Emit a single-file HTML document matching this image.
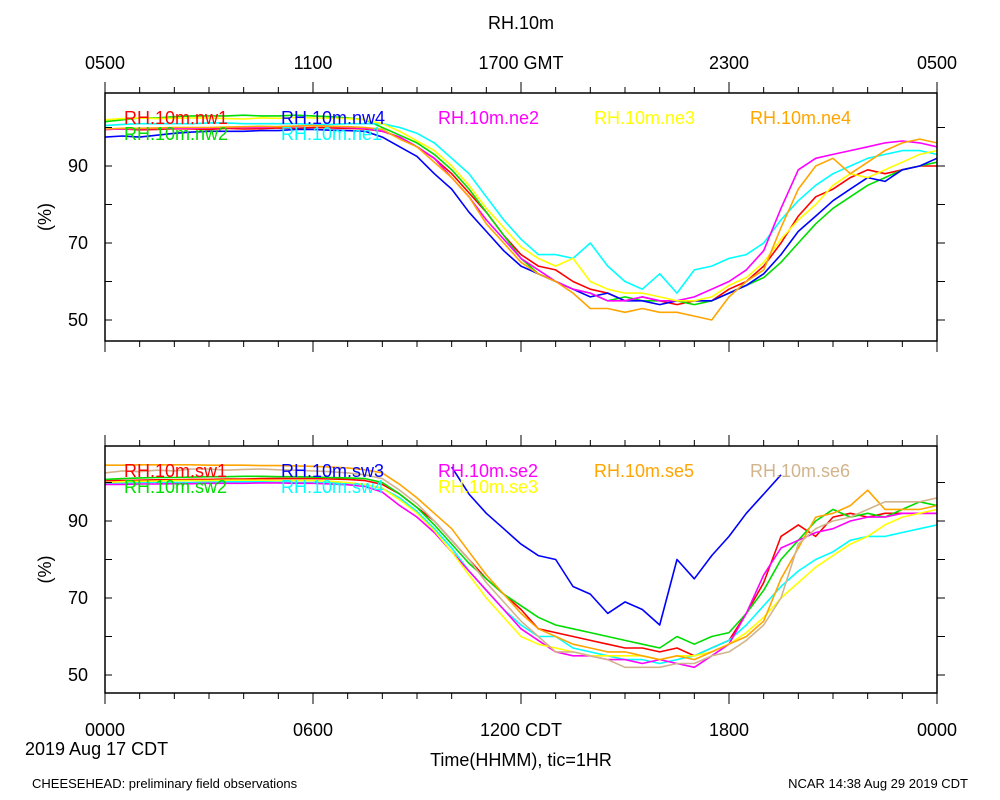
<!DOCTYPE html>
<html><head><meta charset="utf-8"><style>
html,body{margin:0;padding:0;background:#fff;}
svg{display:block;font-family:"Liberation Sans",sans-serif;}
</style></head><body>
<svg id="c" width="1000" height="800" viewBox="0 0 1000 800"></svg>
<script>
const hours=[];for(let i=0;i<=48;i++)hours.push(i/2);
const yTicks=[50,60,70,80,90,100];
const yLabels=["90","70","50"];
const topXLabels=["0500","1100","1700 GMT","2300","0500"];
const botXLabels=["0000","0600","1200 CDT","1800","0000"];
const topNames=["RH.10m.nw1","RH.10m.nw2","RH.10m.nw4","RH.10m.ne1","RH.10m.ne2","RH.10m.ne3","RH.10m.ne4"];
const botNames=["RH.10m.sw1","RH.10m.sw2","RH.10m.sw3","RH.10m.sw4","RH.10m.se2","RH.10m.se3","RH.10m.se5","RH.10m.se6"];
const nw1=[99.5,99.6,99.4,99.5,99.7,99.6,99.5,99.8,99.6,99.7,99.9,99.8,100,99.9,99.8,99.6,99,97.5,95,92,88,83,78,72,67,64,63,60,58,57,55,56,55,54,55,55,58,60,64,70,77,82,84,87,89,88,89,90,90];
const nw2=[101.5,102,102.5,102.5,102.8,103,103,103,103.2,103,103,103.2,103,102.8,102.5,102,100,98,96,93,89,84,78,72,66,62,60,58,57,55,56,55,55,55,54,55,57,59,61,65,70,75,79,82,85,87,89,90,91];
const nw4=[97.5,97.8,97.5,98,98.5,98.8,99,99,99,99.2,99.2,99.5,99.5,99.3,99.2,99,97.5,95,92.5,88,84,78,73,68,64,62,60,58,56,57,55,55,54,55,55,55,57,59,62,67,73,77,81,84,87,86,89,90,92];
const ne1=[100.5,100.8,101,101,101,101,101.2,101.2,101,101,101,101,100.8,100.8,101,101,101,100,98.5,96,92,88,82,76,71,67,67,66,70,64,60,58,62,57,63,64,66,67,70,76,81,85,88,90,92,93,94,94,93];
const ne2=[99.5,99.6,99.7,99.8,99.8,99.8,99.9,100,100,100,100.2,100.3,100.5,100.3,100,99.8,99,97.5,95,92,87,82,76,71,66,63,60,58,57,55,55,56,55,55,56,58,60,63,68,79,89,92,93,94,95,96,96.5,96,95];
const ne3=[102,102.3,102.5,102.3,102.4,102.5,102.5,102.3,102.2,102.5,102.4,102.6,102.5,102.4,102.3,102,101,99,96.5,94,90,85,79,74,69,66,64,66,60,58,57,57,56,55,55,56,59,61,65,71,76,80,85,88,87,89,91,93,94];
const ne4=[99.6,99.8,99.8,99.9,100,100,100,100.1,100.2,100.3,100.2,100.4,100.5,100.3,100.2,100,99.5,97,95,91,87,82,75,70,65,62,60,57,53,53,52,53,52,52,51,50,56,60,63,74,84,90,92,88,91,94,96,97,96];
const sw1=[100.5,100.5,100.6,100.7,100.7,100.8,100.8,100.9,100.9,101,101,101,101,100.9,100.8,100.5,99.5,97,93.5,90,85,80,75,71,67,62,61,60,59,58,57,57,56,57,55,57,59,66,74,86,89,86,91,92,91,92,92,92,92];
const sw2=[100.8,101,101.2,101.3,101.3,101.4,101.5,101.5,101.6,101.6,101.5,101.5,101.4,101.3,101.2,101,100,97,93.5,89,84,79,75,71,68,65,63,62,61,60,59,58,57,60,58,60,61,66,72,80,85,90,93,91,92,91,93,95,94];
const sw3=[null,null,null,null,null,null,null,null,null,null,null,null,null,null,null,null,null,null,null,null,104,97,92,88,84,81,80,73,71,66,69,67,63,80,75,81,86,92,97,102,null,null,null,null,null,null,null,null,null];
const sw4=[99.8,99.9,100,100,100,100,100.1,100.2,100.2,100.2,100.1,100,100,100,99.8,99.5,98.5,96,92.5,88,83,77,72,67,63,60,60,57,56,55,54,54,53,54,55,57,59,63,68,73,77,80,82,85,86,86,87,88,89];
const se2=[99.5,99.5,99.6,99.6,99.7,99.7,99.8,99.8,99.8,99.9,99.9,99.8,99.8,99.6,99.4,99,97.5,94,91,87,82,77,72,67,62,59,56,55,55,54,54,53,54,53,52,55,58,66,76,83,85,87,88,90,91,91,92,92,92];
const se3=[100,100.2,100.3,100.4,100.5,100.5,100.5,100.6,100.6,100.6,100.5,100.5,100.5,100.3,100,99.5,98.5,95.5,92,87.5,82,76,70,65,60,58,57,56,55,55,55,55,54,55,55,56,58,61,65,70,74,78,81,84,86,89,91,92,93];
const se5=[104.5,104.5,104.6,104.6,104.6,104.6,104.5,104.5,104.5,104.4,104.4,104.3,104.2,104,103.8,103.3,102.5,99.5,96,92,88,82,76,71,66,62,60,58,57,56,56,55,54,55,54,56,58,60,64,75,83,91,92,94,98,93,93,93,94];
const se6=[102.5,103,102.8,103.2,103,103.5,103.5,103.2,103.4,103.5,103.3,103.2,103,102.8,102.5,102,101,98,94.5,90,85,80,74,69,64,60,56,56,55,54,52,52,52,53,53,55,56,59,63,70,84,88,90,91,93,95,95,95,96];

const NS="http://www.w3.org/2000/svg";
const svg=document.getElementById('c');
function mk(tag,at,parent){const e=document.createElementNS(NS,tag);for(const k in at)e.setAttribute(k,at[k]);(parent||svg).appendChild(e);return e;}
const X0=105,X1=937;
const sx=h=>X0+h*(X1-X0)/24;
const panels=[{top:93,bot:341,y90:166},{top:446,bot:693,y90:521}];
const sy=(p,v)=>p.y90+(90-v)*3.85;

function drawPanel(p,names,series,colors,legendPos,xlabels,xlabY,nm){
  const g=mk('g',{});
  
  
  const clipId='clip'+nm;
  const cp=mk('clipPath',{id:clipId},g);mk('rect',{x:X0,y:p.top,width:X1-X0,height:p.bot-p.top},cp);
  const lg=mk('g',{'clip-path':'url(#'+clipId+')'},g);
  series.forEach((s,si)=>{
    let d='',pen=false;
    s.forEach((v,i)=>{if(v==null){pen=false;return;}d+=(pen?'L':'M')+sx(hours[i]).toFixed(1)+' '+sy(p,v).toFixed(1);pen=true;});
    const path=mk('path',{d:d,fill:'none',stroke:colors[si],'stroke-width':1.6,'stroke-linejoin':'round'},lg);
    
    
  });
  names.forEach((n,i)=>{
    const t=mk('text',{x:legendPos[i][0],y:legendPos[i][1],fill:colors[i],'font-size':18},g);
    t.textContent=n;
    
    
  });
  const fr=mk('rect',{x:X0,y:p.top,width:X1-X0,height:p.bot-p.top,fill:'none',stroke:'#000','stroke-width':1.5},g);
  
  
  for(let h=0;h<=24;h++){
    const x=sx(h),L=(h%6==0)?11:6;
    mk('line',{x1:x,x2:x,y1:p.bot,y2:p.bot+L,stroke:'#000','stroke-width':1},g);
    mk('line',{x1:x,x2:x,y1:p.top,y2:p.top-L,stroke:'#000','stroke-width':1},g);
  }
  yTicks.forEach(v=>{
    const y=sy(p,v);
    mk('line',{x1:X0,x2:X0+7,y1:y,y2:y,stroke:'#000','stroke-width':1},g);
    mk('line',{x1:X1,x2:X1+8,y1:y,y2:y,stroke:'#000','stroke-width':1},g);
  });
  [90,70,50].forEach((v,i)=>{
    const t=mk('text',{x:88,y:sy(p,v)+6,'text-anchor':'end','font-size':18},g);
    t.textContent=yLabels[i];
    
    
  });
  const yt=mk('text',{x:0,y:0,'font-size':18,'text-anchor':'middle',transform:'translate(51,'+((p.top+p.bot)/2)+') rotate(-90)'},g);
  yt.textContent='(%)';
  
  
  xlabels.forEach((l,i)=>{
    const t=mk('text',{x:sx(i*6),y:xlabY,'text-anchor':'middle','font-size':18},g);
    t.textContent=l;
    
    
  });
}
drawPanel(panels[0],topNames,[nw1,nw2,nw4,ne1,ne2,ne3,ne4],
  ['#ff0000','#00dd00','#0000ff','#00ffff','#ff00ff','#ffff00','#ffa500'],
  [[124,124],[124,140],[281,124],[281,140],[438,124],[594,124],[750,124]],topXLabels,69,'top-panel');
drawPanel(panels[1],botNames,[sw1,sw2,sw3,sw4,se2,se3,se5,se6],
  ['#ff0000','#00dd00','#0000ff','#00ffff','#ff00ff','#ffff00','#ffa500','#d2b48c'],
  [[124,477],[124,493],[281,477],[281,493],[438,477],[438,493],[594,477],[750,477]],botXLabels,736,'bottom-panel');
function txt(x,y,s,size,anchor,name){const t=mk('text',{x:x,y:y,'font-size':size,'text-anchor':anchor});t.textContent=s;}
txt(521,29,'RH.10m',18,'middle','chart-title');
txt(25,755,'2019 Aug 17 CDT',18,'start','date-label');
txt(521,766,'Time(HHMM), tic=1HR',18,'middle','x-axis-title');
txt(32,788,'CHEESEHEAD: preliminary field observations',13,'start','footer-left');
txt(968,788,'NCAR 14:38 Aug 29 2019 CDT',13,'end','footer-right');
</script>
</body></html>
